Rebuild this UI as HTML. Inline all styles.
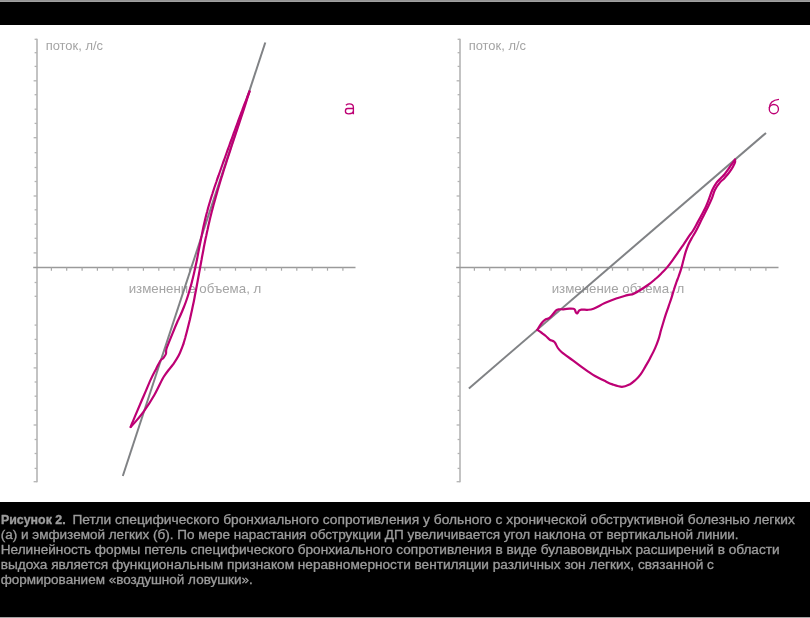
<!DOCTYPE html>
<html><head><meta charset="utf-8"><style>
html,body{margin:0;padding:0;background:#fff;width:810px;height:618px;overflow:hidden}
svg{display:block}
text{filter:grayscale(1)}
.lbl{font-family:"Liberation Sans",sans-serif;font-size:12.6px;fill:#a4a4a4}
.cap{font-family:"Liberation Sans",sans-serif;font-size:12px;fill:#9a9c9e;stroke:#9a9c9e;stroke-width:0.3px}
.let{font-family:"Liberation Sans",sans-serif;font-size:21px;fill:#bd0074}
</style></head><body>
<svg width="810" height="618" viewBox="0 0 810 618">
<rect x="0" y="0" width="810" height="618" fill="#fff"/>
<rect x="0" y="0" width="810" height="1" fill="#949494"/>
<rect x="0" y="1" width="810" height="1" fill="#a0a0a0"/>
<rect x="0" y="2" width="810" height="23" fill="#000"/>
<rect x="0" y="502" width="810" height="116" fill="#000"/>
<rect x="0" y="617" width="810" height="1" fill="#a3a3a3"/>
<line x1="37.0" y1="38.8" x2="37.0" y2="482.2" stroke="#b4b4b4" stroke-width="1.6"/>
<line x1="34.6" y1="39.3" x2="37.0" y2="39.3" stroke="#b4b4b4" stroke-width="1.3"/>
<line x1="34.6" y1="52.7" x2="37.0" y2="52.7" stroke="#b4b4b4" stroke-width="1.3"/>
<line x1="34.6" y1="66.4" x2="37.0" y2="66.4" stroke="#b4b4b4" stroke-width="1.3"/>
<line x1="33.6" y1="80.8" x2="37.0" y2="80.8" stroke="#b4b4b4" stroke-width="1.3"/>
<line x1="34.6" y1="94.7" x2="37.0" y2="94.7" stroke="#b4b4b4" stroke-width="1.3"/>
<line x1="34.6" y1="109.2" x2="37.0" y2="109.2" stroke="#b4b4b4" stroke-width="1.3"/>
<line x1="34.6" y1="123.4" x2="37.0" y2="123.4" stroke="#b4b4b4" stroke-width="1.3"/>
<line x1="33.6" y1="137.7" x2="37.0" y2="137.7" stroke="#b4b4b4" stroke-width="1.3"/>
<line x1="34.6" y1="152.7" x2="37.0" y2="152.7" stroke="#b4b4b4" stroke-width="1.3"/>
<line x1="34.6" y1="167.5" x2="37.0" y2="167.5" stroke="#b4b4b4" stroke-width="1.3"/>
<line x1="34.6" y1="181.5" x2="37.0" y2="181.5" stroke="#b4b4b4" stroke-width="1.3"/>
<line x1="33.6" y1="196.0" x2="37.0" y2="196.0" stroke="#b4b4b4" stroke-width="1.3"/>
<line x1="34.6" y1="209.8" x2="37.0" y2="209.8" stroke="#b4b4b4" stroke-width="1.3"/>
<line x1="34.6" y1="224.2" x2="37.0" y2="224.2" stroke="#b4b4b4" stroke-width="1.3"/>
<line x1="34.6" y1="238.3" x2="37.0" y2="238.3" stroke="#b4b4b4" stroke-width="1.3"/>
<line x1="33.6" y1="252.9" x2="37.0" y2="252.9" stroke="#b4b4b4" stroke-width="1.3"/>
<line x1="34.6" y1="282.5" x2="37.0" y2="282.5" stroke="#b4b4b4" stroke-width="1.3"/>
<line x1="34.6" y1="296.3" x2="37.0" y2="296.3" stroke="#b4b4b4" stroke-width="1.3"/>
<line x1="34.6" y1="325.1" x2="37.0" y2="325.1" stroke="#b4b4b4" stroke-width="1.3"/>
<line x1="34.6" y1="339.4" x2="37.0" y2="339.4" stroke="#b4b4b4" stroke-width="1.3"/>
<line x1="34.6" y1="353.5" x2="37.0" y2="353.5" stroke="#b4b4b4" stroke-width="1.3"/>
<line x1="33.6" y1="367.9" x2="37.0" y2="367.9" stroke="#b4b4b4" stroke-width="1.3"/>
<line x1="34.6" y1="382.0" x2="37.0" y2="382.0" stroke="#b4b4b4" stroke-width="1.3"/>
<line x1="34.6" y1="396.2" x2="37.0" y2="396.2" stroke="#b4b4b4" stroke-width="1.3"/>
<line x1="34.6" y1="410.4" x2="37.0" y2="410.4" stroke="#b4b4b4" stroke-width="1.3"/>
<line x1="33.6" y1="425.0" x2="37.0" y2="425.0" stroke="#b4b4b4" stroke-width="1.3"/>
<line x1="34.6" y1="439.5" x2="37.0" y2="439.5" stroke="#b4b4b4" stroke-width="1.3"/>
<line x1="34.6" y1="453.5" x2="37.0" y2="453.5" stroke="#b4b4b4" stroke-width="1.3"/>
<line x1="34.6" y1="468.4" x2="37.0" y2="468.4" stroke="#b4b4b4" stroke-width="1.3"/>
<line x1="33.6" y1="481.7" x2="37.0" y2="481.7" stroke="#b4b4b4" stroke-width="1.3"/>
<line x1="33.2" y1="267.5" x2="355.5" y2="267.5" stroke="#9a9a9a" stroke-width="1.5"/>
<line x1="51.4" y1="267.5" x2="51.4" y2="270.7" stroke="#a8a8a8" stroke-width="1.2"/>
<line x1="66.7" y1="267.5" x2="66.7" y2="270.7" stroke="#a8a8a8" stroke-width="1.2"/>
<line x1="82.1" y1="267.5" x2="82.1" y2="270.7" stroke="#a8a8a8" stroke-width="1.2"/>
<line x1="97.4" y1="267.5" x2="97.4" y2="270.7" stroke="#a8a8a8" stroke-width="1.2"/>
<line x1="112.8" y1="267.5" x2="112.8" y2="270.7" stroke="#a8a8a8" stroke-width="1.2"/>
<line x1="128.1" y1="267.5" x2="128.1" y2="270.7" stroke="#a8a8a8" stroke-width="1.2"/>
<line x1="143.4" y1="267.5" x2="143.4" y2="270.7" stroke="#a8a8a8" stroke-width="1.2"/>
<line x1="158.8" y1="267.5" x2="158.8" y2="270.7" stroke="#a8a8a8" stroke-width="1.2"/>
<line x1="174.1" y1="267.5" x2="174.1" y2="270.7" stroke="#a8a8a8" stroke-width="1.2"/>
<line x1="189.5" y1="267.5" x2="189.5" y2="270.7" stroke="#a8a8a8" stroke-width="1.2"/>
<line x1="204.8" y1="267.5" x2="204.8" y2="270.7" stroke="#a8a8a8" stroke-width="1.2"/>
<line x1="220.1" y1="267.5" x2="220.1" y2="270.7" stroke="#a8a8a8" stroke-width="1.2"/>
<line x1="235.5" y1="267.5" x2="235.5" y2="270.7" stroke="#a8a8a8" stroke-width="1.2"/>
<line x1="250.8" y1="267.5" x2="250.8" y2="270.7" stroke="#a8a8a8" stroke-width="1.2"/>
<line x1="266.2" y1="267.5" x2="266.2" y2="270.7" stroke="#a8a8a8" stroke-width="1.2"/>
<line x1="281.5" y1="267.5" x2="281.5" y2="270.7" stroke="#a8a8a8" stroke-width="1.2"/>
<line x1="296.8" y1="267.5" x2="296.8" y2="270.7" stroke="#a8a8a8" stroke-width="1.2"/>
<line x1="312.2" y1="267.5" x2="312.2" y2="270.7" stroke="#a8a8a8" stroke-width="1.2"/>
<line x1="327.5" y1="267.5" x2="327.5" y2="270.7" stroke="#a8a8a8" stroke-width="1.2"/>
<line x1="342.9" y1="267.5" x2="342.9" y2="270.7" stroke="#a8a8a8" stroke-width="1.2"/>
<text x="45.7" y="49.8" textLength="57.3" lengthAdjust="spacingAndGlyphs" class="lbl">поток, л/с</text>
<text x="128.7" y="293.4" textLength="132.6" lengthAdjust="spacingAndGlyphs" class="lbl">изменение объема, л</text>
<line x1="460.0" y1="38.8" x2="460.0" y2="482.2" stroke="#b4b4b4" stroke-width="1.6"/>
<line x1="457.6" y1="39.3" x2="460.0" y2="39.3" stroke="#b4b4b4" stroke-width="1.3"/>
<line x1="457.6" y1="52.7" x2="460.0" y2="52.7" stroke="#b4b4b4" stroke-width="1.3"/>
<line x1="457.6" y1="66.4" x2="460.0" y2="66.4" stroke="#b4b4b4" stroke-width="1.3"/>
<line x1="456.6" y1="80.8" x2="460.0" y2="80.8" stroke="#b4b4b4" stroke-width="1.3"/>
<line x1="457.6" y1="94.7" x2="460.0" y2="94.7" stroke="#b4b4b4" stroke-width="1.3"/>
<line x1="457.6" y1="109.2" x2="460.0" y2="109.2" stroke="#b4b4b4" stroke-width="1.3"/>
<line x1="457.6" y1="123.4" x2="460.0" y2="123.4" stroke="#b4b4b4" stroke-width="1.3"/>
<line x1="456.6" y1="137.7" x2="460.0" y2="137.7" stroke="#b4b4b4" stroke-width="1.3"/>
<line x1="457.6" y1="152.7" x2="460.0" y2="152.7" stroke="#b4b4b4" stroke-width="1.3"/>
<line x1="457.6" y1="167.5" x2="460.0" y2="167.5" stroke="#b4b4b4" stroke-width="1.3"/>
<line x1="457.6" y1="181.5" x2="460.0" y2="181.5" stroke="#b4b4b4" stroke-width="1.3"/>
<line x1="456.6" y1="196.0" x2="460.0" y2="196.0" stroke="#b4b4b4" stroke-width="1.3"/>
<line x1="457.6" y1="209.8" x2="460.0" y2="209.8" stroke="#b4b4b4" stroke-width="1.3"/>
<line x1="457.6" y1="224.2" x2="460.0" y2="224.2" stroke="#b4b4b4" stroke-width="1.3"/>
<line x1="457.6" y1="238.3" x2="460.0" y2="238.3" stroke="#b4b4b4" stroke-width="1.3"/>
<line x1="456.6" y1="252.9" x2="460.0" y2="252.9" stroke="#b4b4b4" stroke-width="1.3"/>
<line x1="457.6" y1="282.5" x2="460.0" y2="282.5" stroke="#b4b4b4" stroke-width="1.3"/>
<line x1="457.6" y1="296.3" x2="460.0" y2="296.3" stroke="#b4b4b4" stroke-width="1.3"/>
<line x1="457.6" y1="325.1" x2="460.0" y2="325.1" stroke="#b4b4b4" stroke-width="1.3"/>
<line x1="457.6" y1="339.4" x2="460.0" y2="339.4" stroke="#b4b4b4" stroke-width="1.3"/>
<line x1="457.6" y1="353.5" x2="460.0" y2="353.5" stroke="#b4b4b4" stroke-width="1.3"/>
<line x1="456.6" y1="367.9" x2="460.0" y2="367.9" stroke="#b4b4b4" stroke-width="1.3"/>
<line x1="457.6" y1="382.0" x2="460.0" y2="382.0" stroke="#b4b4b4" stroke-width="1.3"/>
<line x1="457.6" y1="396.2" x2="460.0" y2="396.2" stroke="#b4b4b4" stroke-width="1.3"/>
<line x1="457.6" y1="410.4" x2="460.0" y2="410.4" stroke="#b4b4b4" stroke-width="1.3"/>
<line x1="456.6" y1="425.0" x2="460.0" y2="425.0" stroke="#b4b4b4" stroke-width="1.3"/>
<line x1="457.6" y1="439.5" x2="460.0" y2="439.5" stroke="#b4b4b4" stroke-width="1.3"/>
<line x1="457.6" y1="453.5" x2="460.0" y2="453.5" stroke="#b4b4b4" stroke-width="1.3"/>
<line x1="457.6" y1="468.4" x2="460.0" y2="468.4" stroke="#b4b4b4" stroke-width="1.3"/>
<line x1="456.6" y1="481.7" x2="460.0" y2="481.7" stroke="#b4b4b4" stroke-width="1.3"/>
<line x1="456.2" y1="267.5" x2="778.5" y2="267.5" stroke="#9a9a9a" stroke-width="1.5"/>
<line x1="474.4" y1="267.5" x2="474.4" y2="270.7" stroke="#a8a8a8" stroke-width="1.2"/>
<line x1="489.7" y1="267.5" x2="489.7" y2="270.7" stroke="#a8a8a8" stroke-width="1.2"/>
<line x1="505.1" y1="267.5" x2="505.1" y2="270.7" stroke="#a8a8a8" stroke-width="1.2"/>
<line x1="520.4" y1="267.5" x2="520.4" y2="270.7" stroke="#a8a8a8" stroke-width="1.2"/>
<line x1="535.8" y1="267.5" x2="535.8" y2="270.7" stroke="#a8a8a8" stroke-width="1.2"/>
<line x1="551.1" y1="267.5" x2="551.1" y2="270.7" stroke="#a8a8a8" stroke-width="1.2"/>
<line x1="566.4" y1="267.5" x2="566.4" y2="270.7" stroke="#a8a8a8" stroke-width="1.2"/>
<line x1="581.8" y1="267.5" x2="581.8" y2="270.7" stroke="#a8a8a8" stroke-width="1.2"/>
<line x1="597.1" y1="267.5" x2="597.1" y2="270.7" stroke="#a8a8a8" stroke-width="1.2"/>
<line x1="612.5" y1="267.5" x2="612.5" y2="270.7" stroke="#a8a8a8" stroke-width="1.2"/>
<line x1="627.8" y1="267.5" x2="627.8" y2="270.7" stroke="#a8a8a8" stroke-width="1.2"/>
<line x1="643.1" y1="267.5" x2="643.1" y2="270.7" stroke="#a8a8a8" stroke-width="1.2"/>
<line x1="658.5" y1="267.5" x2="658.5" y2="270.7" stroke="#a8a8a8" stroke-width="1.2"/>
<line x1="673.8" y1="267.5" x2="673.8" y2="270.7" stroke="#a8a8a8" stroke-width="1.2"/>
<line x1="689.2" y1="267.5" x2="689.2" y2="270.7" stroke="#a8a8a8" stroke-width="1.2"/>
<line x1="704.5" y1="267.5" x2="704.5" y2="270.7" stroke="#a8a8a8" stroke-width="1.2"/>
<line x1="719.8" y1="267.5" x2="719.8" y2="270.7" stroke="#a8a8a8" stroke-width="1.2"/>
<line x1="735.2" y1="267.5" x2="735.2" y2="270.7" stroke="#a8a8a8" stroke-width="1.2"/>
<line x1="750.5" y1="267.5" x2="750.5" y2="270.7" stroke="#a8a8a8" stroke-width="1.2"/>
<line x1="765.9" y1="267.5" x2="765.9" y2="270.7" stroke="#a8a8a8" stroke-width="1.2"/>
<text x="468.7" y="49.8" textLength="57.3" lengthAdjust="spacingAndGlyphs" class="lbl">поток, л/с</text>
<text x="551.7" y="293.4" textLength="132.6" lengthAdjust="spacingAndGlyphs" class="lbl">изменение объема, л</text>
<line x1="265.3" y1="42.5" x2="122.8" y2="476" stroke="#808285" stroke-width="2"/>
<line x1="468.9" y1="388.4" x2="766" y2="132.9" stroke="#808285" stroke-width="2"/>
<path d="M249.5 91.5 C249.1 92.5 247.9 95.5 247.1 97.5 C246.4 99.5 245.6 101.5 244.8 103.5 C244.0 105.5 243.3 107.5 242.5 109.5 C241.8 111.5 241.0 113.5 240.3 115.5 C239.5 117.5 238.8 119.5 238.0 121.5 C237.3 123.5 236.6 125.5 235.8 127.5 C235.1 129.5 234.4 131.5 233.6 133.5 C232.9 135.5 232.2 137.5 231.5 139.5 C230.7 141.5 230.0 143.5 229.3 145.5 C228.6 147.5 227.8 149.5 227.1 151.5 C226.4 153.5 225.7 155.5 225.0 157.5 C224.3 159.5 223.5 161.5 222.8 163.5 C222.1 165.5 221.4 167.5 220.7 169.5 C220.0 171.5 219.3 173.5 218.6 175.5 C217.8 177.5 217.1 179.5 216.5 181.5 C215.8 183.5 215.1 185.5 214.4 187.5 C213.8 189.5 213.1 191.5 212.5 193.5 C211.8 195.5 211.2 197.5 210.6 199.5 C210.0 201.5 209.4 203.5 208.8 205.5 C208.2 207.5 207.7 209.5 207.2 211.5 C206.6 213.5 206.1 215.5 205.6 217.5 C205.1 219.5 204.7 221.5 204.2 223.5 C203.7 225.5 203.3 227.5 202.9 229.5 C202.5 231.5 202.1 233.5 201.7 235.5 C201.2 237.5 200.9 239.5 200.5 241.5 C200.1 243.5 199.7 245.5 199.3 247.5 C198.9 249.5 198.5 251.5 198.1 253.5 C197.8 255.5 197.4 257.5 197.0 259.5 C196.6 261.5 196.2 263.5 195.7 265.5 C195.3 267.5 194.9 269.5 194.4 271.5 C194.0 273.5 193.5 275.5 193.0 277.5 C192.5 279.5 192.0 281.5 191.5 283.5 C191.0 285.5 190.4 287.5 189.8 289.5 C189.2 291.5 188.6 293.5 188.0 295.5 C187.4 297.5 186.7 299.5 186.0 301.5 C185.3 303.5 184.5 305.5 183.7 307.5 C182.9 309.5 182.1 311.5 181.2 313.5 C180.4 315.5 179.1 318.2 178.5 319.5 C177.9 320.8 178.5 319.2 177.6 321.3 C176.7 323.4 174.4 328.8 173.0 332.3 C171.6 335.8 170.1 339.4 169.0 342.2 C167.9 345.0 166.8 347.4 166.3 349.4 C165.8 351.4 166.4 352.6 165.9 354.0 C165.4 355.4 164.4 356.6 163.5 357.8 C162.6 359.0 161.4 359.1 160.2 361.0 C159.0 362.9 157.7 365.8 156.1 368.9 C154.5 372.0 152.8 375.0 150.8 379.4 C148.8 383.8 146.3 389.9 144.0 395.2 C141.7 400.5 139.2 406.5 137.2 411.1 C135.2 415.7 133.3 420.4 132.2 423.0 C131.1 425.6 130.9 426.3 130.7 427.0" fill="none" stroke="#bd0074" stroke-width="2.2" stroke-linejoin="round" stroke-linecap="round"/>
<path d="M249.5 91.5 C249.2 92.5 248.3 95.5 247.6 97.5 C247.0 99.5 246.3 101.5 245.7 103.5 C245.1 105.5 244.4 107.5 243.8 109.5 C243.1 111.5 242.5 113.5 241.8 115.5 C241.1 117.5 240.5 119.5 239.8 121.5 C239.2 123.5 238.5 125.5 237.8 127.5 C237.2 129.5 236.5 131.5 235.8 133.5 C235.2 135.5 234.5 137.5 233.8 139.5 C233.2 141.5 232.5 143.5 231.8 145.5 C231.2 147.5 230.5 149.5 229.9 151.5 C229.2 153.5 228.6 155.5 227.9 157.5 C227.2 159.5 226.6 161.5 226.0 163.5 C225.3 165.5 224.7 167.5 224.0 169.5 C223.4 171.5 222.8 173.5 222.2 175.5 C221.5 177.5 220.9 179.5 220.3 181.5 C219.7 183.5 219.1 185.5 218.5 187.5 C217.9 189.5 217.3 191.5 216.8 193.5 C216.2 195.5 215.6 197.5 215.1 199.5 C214.5 201.5 214.0 203.5 213.4 205.5 C212.9 207.5 212.4 209.5 211.8 211.5 C211.3 213.5 210.8 215.5 210.3 217.5 C209.8 219.5 209.4 221.5 208.9 223.5 C208.4 225.5 208.0 227.5 207.6 229.5 C207.1 231.5 206.7 233.5 206.3 235.5 C205.8 237.5 205.4 239.5 205.0 241.5 C204.6 243.5 204.2 245.5 203.8 247.5 C203.5 249.5 203.1 251.5 202.7 253.5 C202.3 255.5 201.9 257.5 201.6 259.5 C201.2 261.5 200.9 263.5 200.5 265.5 C200.1 267.5 199.8 269.5 199.4 271.5 C199.0 273.5 198.7 275.5 198.3 277.5 C197.9 279.5 197.6 281.5 197.2 283.5 C196.8 285.5 196.5 287.5 196.1 289.5 C195.7 291.5 195.3 293.5 194.9 295.5 C194.6 297.5 194.2 299.5 193.8 301.5 C193.4 303.5 192.9 305.5 192.5 307.5 C192.1 309.5 191.7 311.5 191.2 313.5 C190.8 315.5 190.3 317.5 189.9 319.5 C189.4 321.5 188.9 323.5 188.4 325.5 C187.9 327.5 187.4 329.5 186.9 331.5 C186.4 333.5 185.8 335.5 185.3 337.5 C184.7 339.5 183.9 342.4 183.5 343.5 C183.2 344.6 184.2 342.0 183.4 344.0 C182.6 346.0 180.5 351.9 178.8 355.3 C177.1 358.7 174.8 361.9 173.1 364.4 C171.4 366.8 169.9 368.3 168.6 370.0 C167.3 371.7 166.3 373.0 165.2 374.6 C164.1 376.2 164.0 376.0 162.2 379.4 C160.4 382.8 157.2 389.9 154.2 395.2 C151.2 400.5 147.2 406.6 144.0 411.1 C140.8 415.6 137.1 419.8 134.9 422.4 C132.7 425.0 131.4 426.2 130.7 427.0" fill="none" stroke="#bd0074" stroke-width="2.2" stroke-linejoin="round" stroke-linecap="round"/>
<path d="M537.4 329.8 C537.8 329.1 539.0 327.0 539.9 325.6 C540.8 324.2 541.8 322.8 542.8 321.7 C543.8 320.6 544.9 319.7 545.8 319.2 C546.7 318.7 547.5 318.9 548.3 318.5 C549.1 318.1 549.8 317.6 550.7 316.7 C551.6 315.8 552.8 314.4 553.7 313.3 C554.6 312.2 555.4 311.0 556.2 310.3 C557.0 309.6 557.4 309.5 558.6 309.3 C559.8 309.1 561.8 309.4 563.6 309.3 C565.4 309.2 567.9 308.7 569.5 308.6 C571.1 308.5 572.6 308.6 573.5 308.8 C574.4 309.0 574.5 309.2 574.9 309.8 C575.3 310.4 575.5 311.7 575.9 312.3 C576.3 312.9 576.9 313.6 577.4 313.3 C577.9 313.1 578.2 311.4 578.9 310.8 C579.6 310.2 580.0 309.8 581.4 309.6 C582.8 309.4 585.3 309.9 587.3 309.8 C589.3 309.7 590.6 309.9 593.5 308.8 C596.4 307.7 601.0 304.8 604.8 303.1 C608.6 301.4 612.4 299.8 616.2 298.5 C620.0 297.2 624.5 296.0 627.5 295.1 C630.5 294.2 630.9 295.1 634.3 293.4 C637.7 291.7 644.3 287.5 647.9 285.0 C651.5 282.5 653.6 280.5 656.0 278.5 C658.4 276.5 660.2 274.6 662.0 272.8 C663.8 271.0 665.1 269.7 666.9 267.6 C668.6 265.5 670.6 262.9 672.5 260.3 C674.4 257.7 676.3 254.9 678.2 252.2 C680.1 249.5 682.0 246.7 683.8 244.1 C685.5 241.5 687.2 238.9 688.7 236.6 C690.2 234.3 691.6 232.9 693.1 230.5 C694.6 228.1 696.1 225.1 697.6 222.4 C699.1 219.7 700.6 217.0 702.0 214.3 C703.4 211.6 704.9 208.9 706.1 206.2 C707.3 203.5 708.3 200.8 709.3 198.1 C710.3 195.4 711.1 192.6 712.3 190.0 C713.5 187.4 715.2 184.6 716.6 182.6 C718.0 180.6 719.5 179.6 720.8 178.2 C722.1 176.8 723.3 175.8 724.6 174.2 C725.9 172.6 727.5 170.3 728.7 168.6 C729.9 166.9 730.9 165.2 731.8 164.0 C732.7 162.8 733.4 161.9 733.9 161.2 C734.4 160.5 734.8 159.9 735.0 159.6" fill="none" stroke="#bd0074" stroke-width="2.2" stroke-linejoin="round" stroke-linecap="round"/>
<path d="M537.4 329.8 C538.1 330.3 540.5 332.0 541.9 333.0 C543.3 334.0 544.6 334.9 545.8 336.0 C547.0 337.1 548.3 338.6 549.3 339.4 C550.3 340.2 551.0 340.3 551.7 340.6 C552.4 340.9 553.1 340.9 553.7 341.3 C554.3 341.7 554.6 342.1 555.3 343.2 C556.0 344.3 556.9 346.5 557.9 348.0 C558.9 349.5 560.2 350.8 561.5 352.0 C562.8 353.2 563.9 353.9 565.9 355.3 C567.9 356.8 570.8 358.9 573.2 360.7 C575.6 362.5 578.1 364.4 580.5 366.2 C582.9 368.0 585.4 369.7 587.8 371.3 C590.2 372.9 592.2 374.4 595.0 376.0 C597.8 377.6 601.6 379.4 604.5 380.8 C607.4 382.2 609.6 383.4 612.5 384.4 C615.4 385.4 619.0 386.8 621.9 386.8 C624.8 386.8 627.4 385.5 629.7 384.4 C632.0 383.3 633.7 381.6 635.5 380.0 C637.3 378.4 638.8 376.9 640.4 374.7 C642.0 372.5 643.6 369.6 645.2 366.9 C646.8 364.1 648.5 361.3 650.1 358.2 C651.7 355.1 653.6 351.5 655.0 348.4 C656.4 345.3 657.4 342.7 658.4 339.7 C659.4 336.7 660.1 333.4 660.9 330.5 C661.7 327.6 662.5 325.2 663.3 322.5 C664.1 319.8 664.9 317.1 665.8 314.4 C666.7 311.7 667.7 309.0 668.6 306.3 C669.5 303.6 670.5 300.9 671.4 298.2 C672.3 295.5 672.9 292.8 673.8 290.1 C674.6 287.4 675.7 284.3 676.5 282.0 C677.3 279.7 677.8 278.8 678.6 276.5 C679.4 274.2 680.5 271.1 681.3 268.4 C682.1 265.7 682.7 263.0 683.4 260.3 C684.1 257.6 684.8 254.7 685.6 252.2 C686.4 249.7 687.1 247.6 688.1 245.3 C689.1 243.0 690.2 240.9 691.6 238.4 C693.0 235.9 694.8 233.2 696.2 230.5 C697.6 227.8 698.9 225.1 700.2 222.4 C701.6 219.7 702.9 217.0 704.3 214.3 C705.6 211.6 707.0 208.9 708.3 206.2 C709.6 203.5 710.9 200.8 712.0 198.1 C713.1 195.4 713.6 192.6 714.9 190.0 C716.2 187.4 718.2 184.5 719.8 182.6 C721.3 180.7 722.9 179.8 724.2 178.4 C725.5 177.0 726.6 175.8 727.8 174.3 C729.0 172.8 730.2 171.1 731.2 169.6 C732.2 168.1 733.1 166.5 733.7 165.2 C734.4 163.9 734.9 162.9 735.1 162.0 C735.3 161.1 735.0 160.0 735.0 159.6" fill="none" stroke="#bd0074" stroke-width="2.2" stroke-linejoin="round" stroke-linecap="round"/>
<g fill="none" stroke="#bd0074" stroke-width="1.35" stroke-linecap="butt">
<path d="M345.9 105.2 C347 104.2 348.2 103.9 349.4 103.9 C351.8 103.9 353.4 105.1 353.4 107.4 L353.4 114.3 M353.4 108.5 L347.6 108.5 C346.1 108.5 345.4 109.6 345.4 111.2 C345.4 112.9 346.8 113.8 348.8 113.8 C351.5 113.8 353.4 112.5 353.4 110.6"/>
<path d="M779 99.3 C774.5 99.7 769.5 101.2 769.25 108"/>
<circle cx="773.85" cy="109.1" r="4.6"/>
</g>
<text x="1.0" y="523.9" textLength="64.6" lengthAdjust="spacingAndGlyphs" class="cap" font-weight="bold" style="stroke-width:0.35px">Рисунок 2.</text>
<text x="72.4" y="523.9" textLength="722.5" lengthAdjust="spacingAndGlyphs" class="cap">Петли специфического бронхиального сопротивления у больного с хронической обструктивной болезнью легких</text>
<text x="0.7" y="538.8" textLength="737.9" lengthAdjust="spacingAndGlyphs" class="cap">(а) и эмфиземой легких (б). По мере нарастания обструкции ДП увеличивается угол наклона от вертикальной линии.</text>
<text x="0.7" y="553.7" textLength="778.9" lengthAdjust="spacingAndGlyphs" class="cap">Нелинейность формы петель специфического бронхиального сопротивления в виде булавовидных расширений в области</text>
<text x="0.7" y="568.6" textLength="713.2" lengthAdjust="spacingAndGlyphs" class="cap">выдоха является функциональным признаком неравномерности вентиляции различных зон легких, связанной с</text>
<text x="0.7" y="583.5" textLength="252.1" lengthAdjust="spacingAndGlyphs" class="cap">формированием «воздушной ловушки».</text>
</svg>
</body></html>
